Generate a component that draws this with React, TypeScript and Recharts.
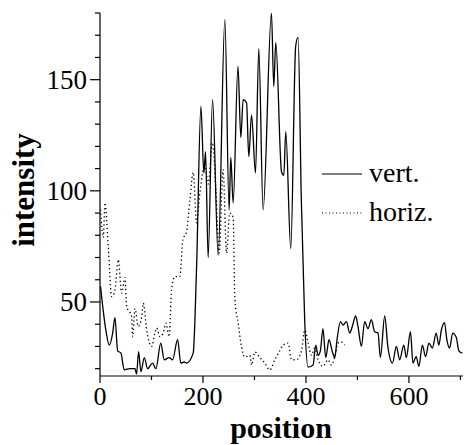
import { LineChart, XAxis, YAxis, Line } from "recharts";

// values
const vertPos = [
  1, 11.6, 18, 24.6, 29, 34.3, 40.7, 47, 58, 68, 71, 75, 79.5, 86, 92.5, 102,
  108.6, 118, 124.7, 134.4, 141, 150.7, 157, 163.5, 168, 181, 187.6, 196,
  201.7, 205, 210, 218.6, 229.5, 242.5, 250.8, 254, 258.6, 268, 273.5, 278,
  284.6, 289, 294.3, 302, 308.4, 316.8, 333, 337.5, 341.4, 352.5, 357, 360.8,
  370.5, 380, 384.7, 391, 397.7, 404, 413.8, 419, 423.5, 428, 433, 438.4,
  444.8, 451.4, 456, 460.3, 467, 472, 478.6, 485, 490, 496.6, 501, 507.7, 514,
  520.5, 527, 533.5, 540, 544.5, 553, 559, 568, 575.6, 582, 590, 595, 603,
  607.8, 614, 619.4, 626, 632.4, 638.8, 645.4, 653, 658, 663, 669, 673.7, 679,
  685, 692, 697, 703.6,
];
const vertVal = [
  57, 37, 30.6, 36, 43, 28, 27, 19.5, 20, 20, 17.5, 27.6, 18.6, 25, 20, 22.5,
  20, 31.5, 24, 25, 24, 33, 22.5, 23, 22.5, 27, 66, 138, 108, 117.6, 70, 141,
  71, 177, 91.5, 115, 94.6, 156, 124, 141, 139.6, 115.4, 134, 108, 164, 91.5,
  180, 147, 166.7, 108.6, 107, 126.6, 74, 165, 169, 96, 40.5, 20.7, 21.6, 30.6,
  26, 28, 38, 25, 33, 27.5, 25, 33, 41.2, 39.6, 41.2, 36, 39, 43.7, 39, 30,
  41.2, 38, 42, 36.6, 36, 25, 43.7, 30, 22.5, 30, 24, 30.6, 25, 36.6, 22.5,
  25.4, 21, 30.6, 25.4, 31.5, 29.3, 36, 30.6, 37.4, 40.7, 33, 29.3, 36, 34, 28,
  27,
];

const horizPos = [
  1, 6.4, 9.7, 16, 22.7, 29, 35.5, 42, 48.5, 51.8, 61.5, 63.4, 68, 74.3, 81, 84,
  90.6, 100.3, 106.7, 110, 116.4, 122.8, 128, 134.4, 139, 145.5, 155, 161, 168,
  174.6, 181, 187.6, 194, 203.7, 210, 218.6, 225, 231.4, 239, 245.8, 252,
  258.6, 262, 268.3, 275, 281, 291, 294.3, 300.7, 310.4, 320, 329.8, 339.5,
  349, 355.6, 365.3, 372, 381.6, 391.3, 397.7, 404, 410.5, 417, 423.5, 433,
  443, 449.5, 456, 462.3, 469, 475.3,
];
const horizVal = [
  91.5, 79, 94.6, 75, 52.4, 55.4, 69, 54, 61, 48, 43.4, 34.4, 47, 39, 43.4,
  49.5, 37.4, 30, 36, 38.3, 34.4, 36, 40.5, 34.4, 55.4, 61.4, 61.4, 78, 81.5,
  96, 108.3, 85.6, 99, 112, 103, 121.6, 100.5, 72, 109.5, 72, 90, 88, 51, 40.5,
  29.7, 25.2, 26, 21.6, 27.5, 25, 22.5, 19.4, 24, 28, 30.6, 31.5, 24, 24, 28,
  37.4, 32, 26, 29.3, 24, 21, 24, 21.6, 25.4, 31.5, 32, 30.6,
];

const xTicks = [0, 100, 200, 300, 400, 500, 600, 700];
const xLabels = [0, 200, 400, 600];
const yTicks = [20, 30, 40, 50, 60, 70, 80, 90, 100, 110, 120, 130, 140, 150, 160, 170, 180];
const yLabels = [50, 100, 150];

const seriesNames = ["vert.", "horiz."];

const vertData = vertPos.map((x, i) => ({ x, y: vertVal[i] }));
const horizData = horizPos.map((x, i) => ({ x, y: horizVal[i] }));

const FONT = '"Liberation Serif", "Times New Roman", serif';

const XTick = (props: any) => {
  const { x, y, payload } = props;
  const major = xLabels.includes(payload.value);
  return (
    <g>
      <line x1={x} x2={x} y1={y} y2={y + (major ? 7 : 4)} stroke="#000" strokeWidth={1.2} />
      {major && (
        <text x={x} y={y + 29} textAnchor="middle" fontSize={26} fontFamily={FONT} fill="#000">
          {payload.value}
        </text>
      )}
    </g>
  );
};

const YTick = (props: any) => {
  const { x, y, payload } = props;
  const major = yLabels.includes(payload.value);
  return (
    <g>
      <line x1={x} x2={x - (major ? 10 : 5)} y1={y} y2={y} stroke="#000" strokeWidth={1.2} />
      {major && (
        <text x={x - 13} y={y} dy="0.35em" textAnchor="end" fontSize={27} fontFamily={FONT} fill="#000">
          {payload.value}
        </text>
      )}
    </g>
  );
};

export default function App() {
  return (
    <div style={{ position: "absolute", left: 0, top: 0, width: 464, height: 445 }}>
      <LineChart width={464} height={445} margin={{ top: 13, right: 1, left: 10, bottom: 0 }}>
        <XAxis
          type="number"
          dataKey="x"
          domain={[0, 705]}
          ticks={xTicks}
          interval={0}
          tick={<XTick />}
          tickSize={0}
          tickMargin={0}
          tickLine={false}
          height={69}
          axisLine={{ stroke: "#000", strokeWidth: 1.2 }}
          allowDataOverflow
        />
        <YAxis
          type="number"
          dataKey="y"
          domain={[16.7, 180]}
          ticks={yTicks}
          interval={0}
          tick={<YTick />}
          tickSize={0}
          tickMargin={0}
          tickLine={false}
          width={90}
          axisLine={{ stroke: "#000", strokeWidth: 1.2 }}
          allowDataOverflow
        />
        <Line
          data={vertData}
          dataKey="y"
          name={seriesNames[0]}
          type="monotone"
          stroke="#000"
          strokeWidth={1.3}
          dot={false}
          isAnimationActive={false}
        />
        <Line
          data={horizData}
          dataKey="y"
          name={seriesNames[1]}
          type="monotone"
          stroke="#000"
          strokeWidth={1.3}
          strokeDasharray="1.3 2.7"
          dot={false}
          isAnimationActive={false}
        />
      </LineChart>
      <svg
        width={464}
        height={445}
        style={{ position: "absolute", left: 0, top: 0, pointerEvents: "none" }}
      >
        <line x1={322} x2={362} y1={174} y2={174} stroke="#000" strokeWidth={1.2} />
        <text x={369} y={182} fontSize={28} fontFamily={FONT}>{seriesNames[0]}</text>
        <line x1={322} x2={362} y1={213} y2={213} stroke="#000" strokeWidth={1.2} strokeDasharray="1 2.5" />
        <text x={369} y={221} fontSize={28} fontFamily={FONT}>{seriesNames[1]}</text>
        <text x={281} y={438} textAnchor="middle" fontSize={30} fontWeight="bold" fontFamily={FONT}>
          position
        </text>
        <text
          transform="translate(34,190) rotate(-90)"
          textAnchor="middle"
          fontSize={31}
          fontWeight="bold"
          fontFamily={FONT}
        >
          intensity
        </text>
      </svg>
    </div>
  );
}
